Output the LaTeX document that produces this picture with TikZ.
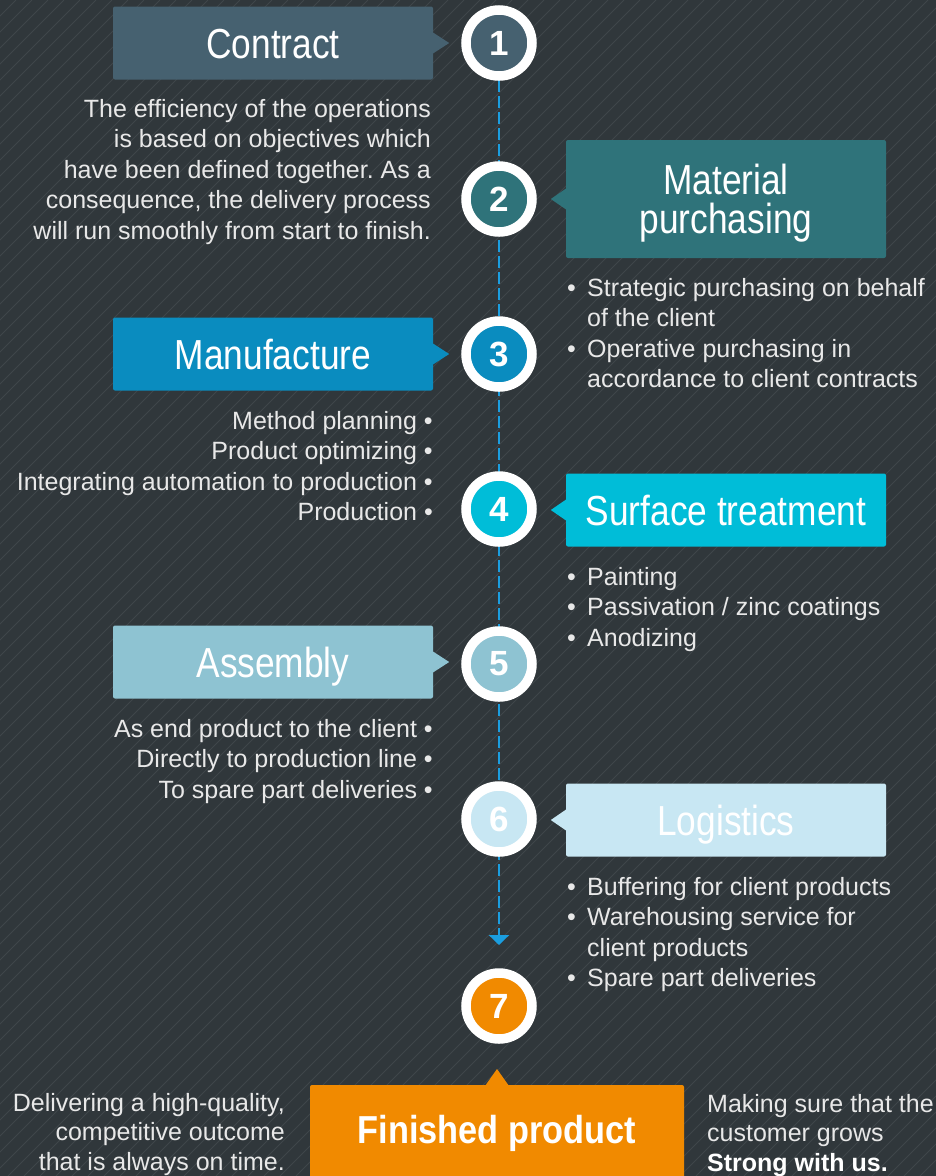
\documentclass[tikz,border=0pt]{standalone}
\usepackage{fontspec}
\setmainfont{Liberation Sans}
\newfontfamily\condfont[FakeStretch=0.84]{Liberation Sans}
\newfontfamily\condbfont[FakeStretch=0.88]{Liberation Sans}
\usetikzlibrary{arrows.meta,calc}
\definecolor{bg}{HTML}{30373B}
\definecolor{hatch}{HTML}{3F464A}
\definecolor{ccontract}{HTML}{466170}
\definecolor{cmaterial}{HTML}{2F737A}
\definecolor{cmanu}{HTML}{0A8CBF}
\definecolor{csurface}{HTML}{00BDD8}
\definecolor{cassembly}{HTML}{8EC3D2}
\definecolor{clogistics}{HTML}{C8E7F3}
\definecolor{corange}{HTML}{F18A00}
\definecolor{cdash}{HTML}{1B9EE0}
\definecolor{txt}{HTML}{E8E8E8}
\tikzset{
  titlebox/.style={rectangle, rounded corners=2pt, minimum width=320pt, minimum height=73pt,
    inner sep=0pt, text=white, font=\condfont\fontsize{42}{46}\selectfont},
  numring/.style={circle, draw=white, line width=9.5pt, minimum size=66pt, inner sep=0pt,
    text=white, font=\bfseries\fontsize{35}{35}\selectfont},
  body/.style={inner sep=0pt, text=txt, font=\fontsize{25}{30.5}\selectfont},
  hatchline/.style={draw=hatch, line width=0.8pt},
  dashline/.style={draw=cdash, line width=2.5pt, dash pattern=on 12pt off 4pt}
}
\newcommand{\bul}{\makebox[20pt][l]{\textbullet}}
\frenchspacing
\begin{document}
\begin{tikzpicture}[x=1pt,y=-1pt]
\useasboundingbox (0,0) rectangle (936,1176);
\fill[bg] (0,0) rectangle (936,1176);
\begin{scope}
  \clip (0,0) rectangle (936,1176);
  \foreach \i in {-1176,-1160,...,952} \draw[hatchline] (\i,1176) -- ++(1176,-1176);
\end{scope}

% dashed connector
\coordinate (arrowend) at (499,945);
\coordinate (dashstart) at (499,80);
\draw[dashline,-{Triangle[width=20pt,length=10pt]}] (dashstart) -- (arrowend);

% numbered circles
\node[numring, fill=ccontract] (c1) at (499,43) {1};
\node[numring, fill=cmaterial] (c2) at (499,199) {2};
\node[numring, fill=cmanu] (c3) at (499,354) {3};
\node[numring, fill=csurface] (c4) at (499,509) {4};
\node[numring, fill=cassembly] (c5) at (499,664) {5};
\node[numring, fill=clogistics] (c6) at (499,819) {6};
\node[numring, fill=corange] (c7) at (499,1006) {7};

% left boxes
\node[titlebox, fill=ccontract, text height=30pt, text depth=0pt] (b1) at (273,43) {Contract};
\fill[ccontract] ($(b1.east)+(-1,-11)$) -- ($(b1.east)+(16,0)$) -- ($(b1.east)+(-1,11)$) -- cycle;
\node[titlebox, fill=cmanu, text height=30pt, text depth=0pt] (b3) at (273,354) {Manufacture};
\fill[cmanu] ($(b3.east)+(-1,-11)$) -- ($(b3.east)+(16,0)$) -- ($(b3.east)+(-1,11)$) -- cycle;
\node[titlebox, fill=cassembly, text height=30pt, text depth=0pt] (b5) at (273,662) {Assembly};
\fill[cassembly] ($(b5.east)+(-1,-11)$) -- ($(b5.east)+(16,0)$) -- ($(b5.east)+(-1,11)$) -- cycle;

% right boxes
\node[titlebox, fill=cmaterial, minimum height=118pt, align=center, font=\condfont\fontsize{42}{39}\selectfont] (b2) at (726,199) {};
\node[inner sep=0pt, text=white, align=center, font=\condfont\fontsize{42}{39}\selectfont] (b2text) at (726,203) {Material\\purchasing};
\fill[cmaterial] ($(b2.west)+(1,-11)$) -- ($(b2.west)+(-15,0)$) -- ($(b2.west)+(1,11)$) -- cycle;
\node[titlebox, fill=csurface, text height=30pt, text depth=0pt] (b4) at (726,510) {Surface treatment};
\fill[csurface] ($(b4.west)+(1,-11)$) -- ($(b4.west)+(-15,0)$) -- ($(b4.west)+(1,11)$) -- cycle;
\node[titlebox, fill=clogistics, text height=30pt, text depth=0pt] (b6) at (726,820) {Logistics};
\fill[clogistics] ($(b6.west)+(1,-11)$) -- ($(b6.west)+(-15,0)$) -- ($(b6.west)+(1,11)$) -- cycle;

% finished product
\fill[corange] (485,1086) -- (497,1069) -- (509,1086) -- cycle;
\node[rectangle, rounded corners=2pt, fill=corange, minimum width=374pt, minimum height=100pt, inner sep=0pt] (fin) at (497,1135) {};
\node[inner sep=0pt, text=white, text height=29pt, text depth=0pt, font=\condbfont\bfseries\fontsize{39}{40}\selectfont] (fintext) at (497,1129) {Finished product};

% body texts
\node[body, anchor=north east, align=right] (t1) at (431,99) {The efficiency of the operations\\is based on objectives which\\have been defined together. As a\\consequence, the delivery process\\will run smoothly from start to finish.};
\node[body, anchor=north west, align=left] (t2) at (567,278) {\bul Strategic purchasing on behalf\\\hspace*{20pt}of the client\\\bul Operative purchasing in\\\hspace*{20pt}accordance to client contracts};
\node[body, anchor=north east, align=right] (t3) at (433,411) {Method planning \textbullet\\Product optimizing \textbullet\\Integrating automation to production \textbullet\\Production \textbullet};
\node[body, anchor=north west, align=left] (t4) at (567,567) {\bul Painting\\\bul Passivation / zinc coatings\\\bul Anodizing};
\node[body, anchor=north east, align=right] (t5) at (433,719) {As end product to the client \textbullet\\Directly to production line \textbullet\\To spare part deliveries \textbullet};
\node[body, anchor=north west, align=left] (t6) at (567,877) {\bul Buffering for client products\\\bul Warehousing service for\\\hspace*{20pt}client products\\\bul Spare part deliveries};
\node[body, anchor=north east, align=right, font=\fontsize{25}{29.5}\selectfont] (t7) at (285,1093) {Delivering a high-quality,\\competitive outcome\\that is always on time.};
\node[body, anchor=north west, align=left, font=\fontsize{25}{29.5}\selectfont] (t8) at (707,1094) {Making sure that the\\customer grows\\\textbf{\color{white}Strong with us.}};
\end{tikzpicture}
\end{document}
